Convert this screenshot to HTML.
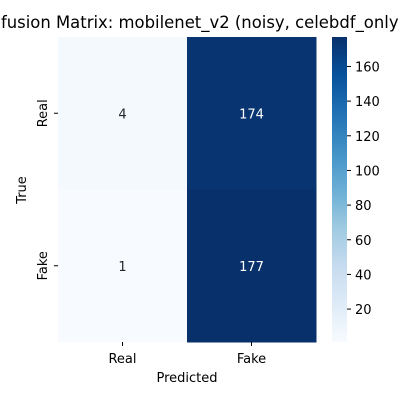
<!DOCTYPE html>
<html><head><meta charset="utf-8"><style>
body{margin:0;background:#fff;}
svg text{font-family:"DejaVu Sans","Liberation Sans",sans-serif;}
</style></head><body>
<svg id="chart" width="400" height="400" viewBox="0 0 400 400" xmlns="http://www.w3.org/2000/svg">
<defs>
<linearGradient id="blues" x1="0" y1="1" x2="0" y2="0">
<stop offset="0" stop-color="#f7fbff"/><stop offset="0.125" stop-color="#deebf7"/><stop offset="0.25" stop-color="#c6dbef"/><stop offset="0.375" stop-color="#9ecae1"/><stop offset="0.5" stop-color="#6baed6"/><stop offset="0.625" stop-color="#4292c6"/><stop offset="0.75" stop-color="#2171b5"/><stop offset="0.875" stop-color="#08519c"/><stop offset="1" stop-color="#08306b"/>
</linearGradient>
</defs>
<text x="187" y="28" font-size="16.5" text-anchor="middle" textLength="436" lengthAdjust="spacingAndGlyphs">Confusion Matrix: mobilenet_v2 (noisy, celebdf_only)</text>
<g id="cells"></g>
<rect x="332" y="37" width="15" height="305" fill="url(#blues)"/>
<g id="cbticks"></g>
<text x="187" y="382" font-size="13" text-anchor="middle">Predicted</text>
<text x="0" y="0" font-size="13" text-anchor="middle" transform="translate(26,190) rotate(-90)">True</text>
</svg>
<script>
const rowLabels=["Real","Fake"];
const colLabels=["Real","Fake"];
const values=[[4,174],[1,177]];
const cbTicks=[20,40,60,80,100,120,140,160];
const X0=58,X1=316,Y0=37,Y1=342;
const flat=values.flat();const vmin=Math.min(...flat),vmax=Math.max(...flat);
const stops=["#f7fbff","#deebf7","#c6dbef","#9ecae1","#6baed6","#4292c6","#2171b5","#08519c","#08306b"];
function hex(h){return [1,3,5].map(i=>parseInt(h.substr(i,2),16));}
function blues(t){t=Math.max(0,Math.min(1,t));const p=t*8,i=Math.min(7,Math.floor(p)),f=p-i;const a=hex(stops[i]),b=hex(stops[i+1]);return "rgb("+a.map((v,k)=>Math.round(v+(b[k]-v)*f)).join(",")+")";}
const NS="http://www.w3.org/2000/svg";
const svg=document.getElementById("chart");
const cells=document.getElementById("cells");
const cw=(X1-X0)/colLabels.length,ch=(Y1-Y0)/rowLabels.length;
function mk(tag,attrs,parent){const e=document.createElementNS(NS,tag);for(const k in attrs)e.setAttribute(k,attrs[k]);parent.appendChild(e);return e;}
values.forEach((row,r)=>row.forEach((v,c)=>{
const t=(v-vmin)/(vmax-vmin);
const rect=mk("rect",{x:X0+c*cw,y:Y0+r*ch,width:cw+0.5,height:ch+0.5,fill:blues(t)},cells);


const tx=mk("text",{x:X0+(c+0.5)*cw,y:Y0+(r+0.5)*ch+5,"font-size":"13","text-anchor":"middle",fill:t>0.5?"#fff":"#262626"},cells);
tx.textContent=v;


}));
colLabels.forEach((l,c)=>{
const x=X0+(c+0.5)*cw;
const tk=mk("line",{x1:x,x2:x,y1:Y1,y2:Y1+4,stroke:"#000"},svg);


const t=mk("text",{x:x,y:Y1+21,"font-size":"13","text-anchor":"middle"},svg);
t.textContent=l;


});
rowLabels.forEach((l,r)=>{
const y=Y0+(r+0.5)*ch;
const tk=mk("line",{x1:X0-4,x2:X0,y1:y,y2:y,stroke:"#000"},svg);


const t=mk("text",{x:0,y:0,"font-size":"13","text-anchor":"middle",transform:"translate(47,"+y+") rotate(-90)"},svg);
t.textContent=l;


});
const cb=document.getElementById("cbticks");
cbTicks.forEach(v=>{
const y=Y1-(v-vmin)/(vmax-vmin)*(Y1-Y0);
const tk=mk("line",{x1:347,x2:351,y1:y,y2:y,stroke:"#000"},cb);


const t=mk("text",{x:355,y:y+5,"font-size":"13"},cb);
t.textContent=v;


});
</script>
</body></html>
